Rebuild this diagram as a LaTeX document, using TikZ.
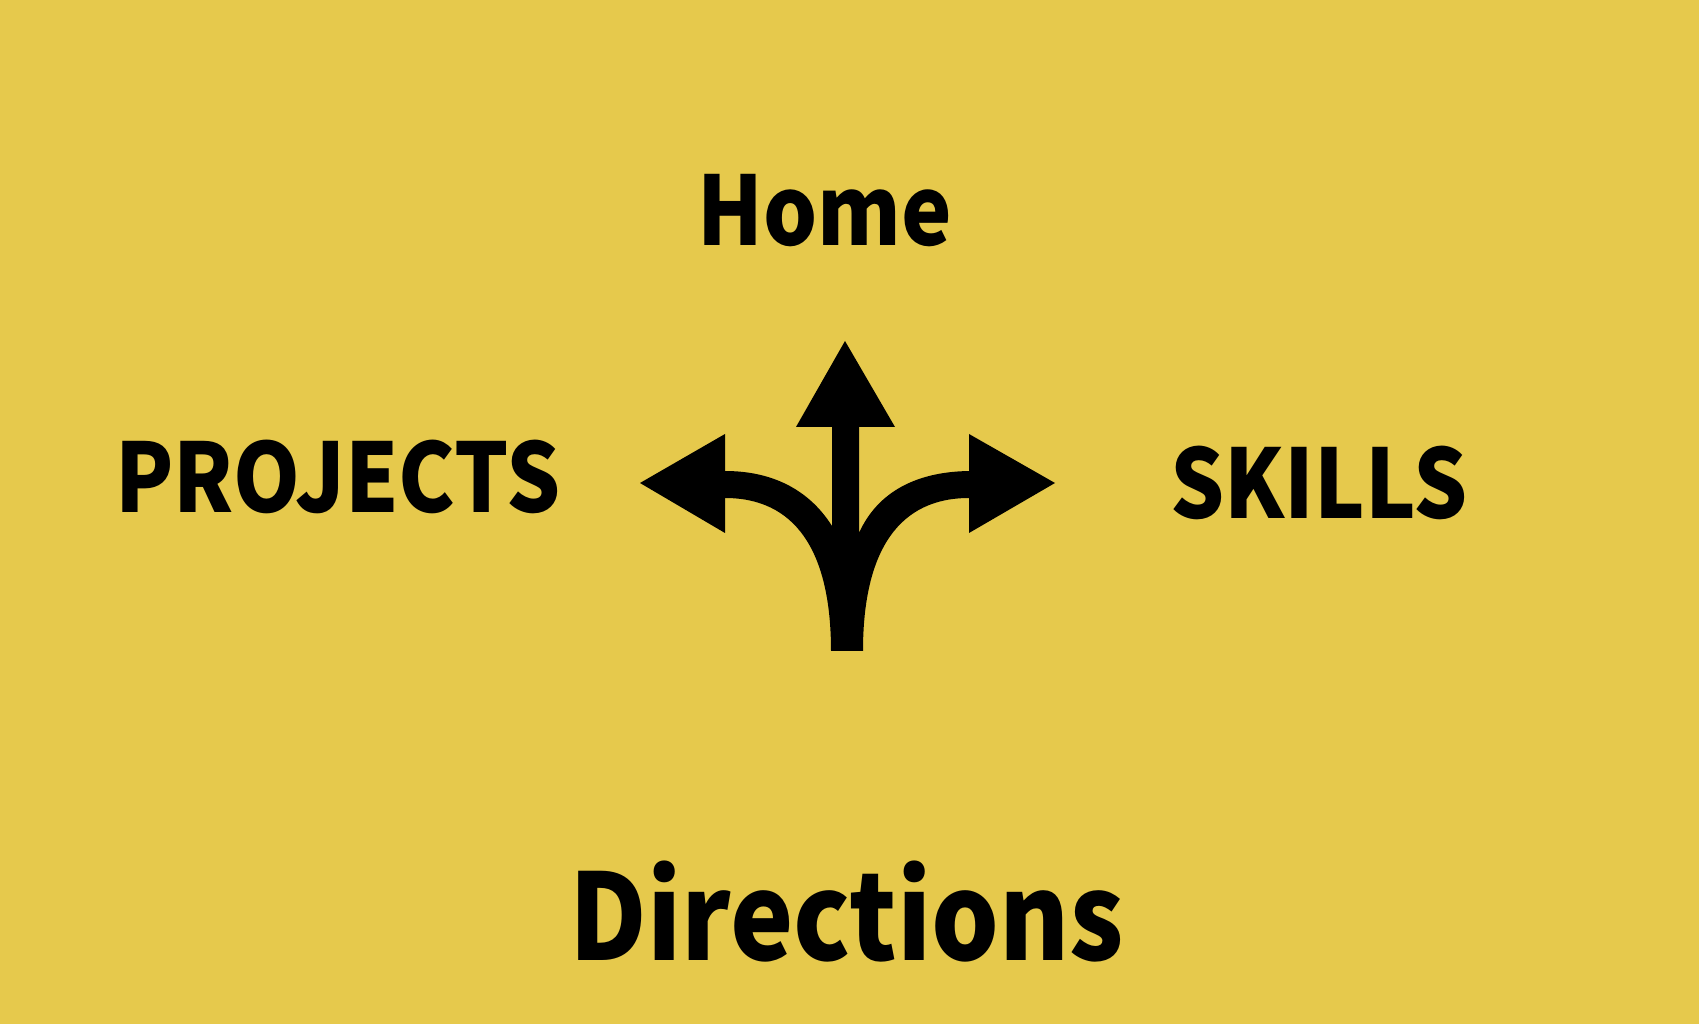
\documentclass[tikz,border=0pt]{standalone}
\usepackage{fontspec}
\setmainfont{Noto Sans CJK SC Black}[FakeStretch=0.89]
\definecolor{signyellow}{HTML}{E6C94C}
\tikzset{
    menulabel/.style={anchor=base, inner sep=0pt, font=\fontsize{27.2}{27.2}\selectfont},
    titlelabel/.style={anchor=base, inner sep=0pt, font=\fontsize{34.1}{34.1}\selectfont},
}
\begin{document}
\begin{tikzpicture}
    % Background
    \fill[signyellow] (0,0) rectangle (16.99,10.24);

    % Labels
    \node[menulabel] (home) at (8.25,7.78) {Home};
    \node[menulabel] (projects) at (3.38,5.11) {PROJECTS};
    \node[menulabel] (skills) at (13.19,5.05) {SKILLS};
    \node[titlelabel] (directions) at (8.47,0.63) {Directions};

    % Arrow heads
    \fill (8.45,6.83) -- (7.96,5.97) -- (8.95,5.97) -- cycle;
    \fill (6.40,5.41) -- (7.25,5.90) -- (7.25,4.91) -- cycle;
    \fill (10.55,5.41) -- (9.69,5.90) -- (9.69,4.91) -- cycle;

    % Fork
    \fill (8.32,6.00) -- (8.59,6.00) -- (8.59,4.91)
        .. controls (8.78,5.33) and (9.18,5.53) .. (9.72,5.53)
        -- (9.72,5.26) -- (9.69,5.26)
        .. controls (9.00,5.26) and (8.63,4.75) .. (8.63,3.73)
        -- (8.31,3.73)
        .. controls (8.31,4.75) and (7.94,5.26) .. (7.25,5.26)
        -- (7.22,5.26) -- (7.22,5.53) -- (7.25,5.53)
        .. controls (7.70,5.53) and (8.08,5.36) .. (8.32,4.98)
        -- cycle;
\end{tikzpicture}
\end{document}
